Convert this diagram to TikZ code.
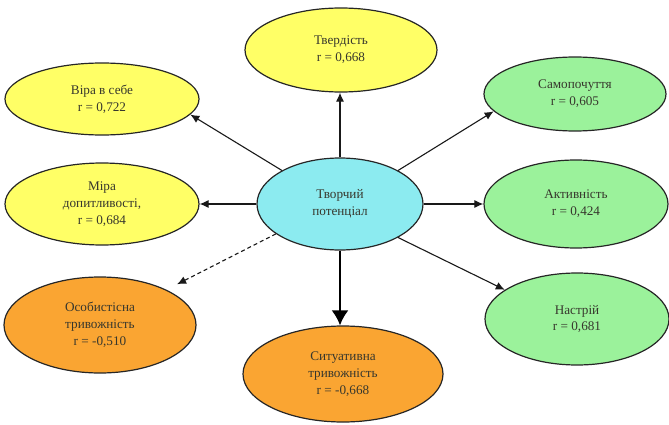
\documentclass[tikz,border=0pt]{standalone}
\usepackage{fontspec}
\setmainfont{Liberation Serif}
\usetikzlibrary{shapes.geometric,arrows.meta}
\definecolor{yelc}{RGB}{255,255,102}
\definecolor{cyanc}{RGB}{140,235,240}
\definecolor{grnc}{RGB}{155,242,155}
\definecolor{orc}{RGB}{250,165,50}
\definecolor{txtc}{RGB}{55,55,45}
\begin{document}
\begin{tikzpicture}[x=1pt,y=-1pt,
  oval/.style={ellipse, draw=black!85, line width=1.2pt, inner sep=0pt, align=center,
    font=\fontsize{13.2}{16.8}\selectfont, text=txtc},
  yel/.style={oval, fill=yelc},
  cya/.style={oval, fill=cyanc},
  grn/.style={oval, fill=grnc},
  ora/.style={oval, fill=orc},
  conn/.style={-{Latex[length=9pt,width=8pt]}, line width=1.1pt, draw=black!90},
  thickconn/.style={-{Latex[length=15pt,width=17pt]}, line width=2.2pt, draw=black},
  dashconn/.style={conn, dash pattern=on 4pt off 3pt}
]
\path[use as bounding box] (0,0) rectangle (669,425);

\node[cya, minimum width=166pt, minimum height=92pt] (c) at (340,204) {Творчий\\потенціал};

\node[yel, minimum width=194pt, minimum height=72pt] (vira) at (102,99) {Віра в себе\\r = 0,722};
\node[yel, minimum width=192pt, minimum height=84pt] (tverd) at (341,50) {Твердість\\r = 0,668};
\node[yel, minimum width=194pt, minimum height=82pt] (mira) at (102,204) {Міра\\допитливості,\\r = 0,684};
\node[ora, minimum width=192pt, minimum height=96pt] (osob) at (100,325) {Особистісна\\тривожність\\r = -0,510};
\node[ora, minimum width=200pt, minimum height=96pt] (sytu) at (343,374) {Ситуативна\\тривожність\\r = -0,668};
\node[grn, minimum width=182pt, minimum height=74pt] (samo) at (575,94) {Самопочуття\\r = 0,605};
\node[grn, minimum width=184pt, minimum height=88pt] (aktyv) at (576,204) {Активність\\r = 0,424};
\node[grn, minimum width=184pt, minimum height=92pt] (nastr) at (577,319) {Настрій\\r = 0,681};

\draw[conn] (c.150) -- (vira.-10);
\draw[conn] (c.90) -- (c.90 |- tverd.south);
\draw[conn] (c.30) -- (samo.192);
\draw[conn] (c.180) -- (mira.0);
\draw[conn] (c.0) -- (aktyv.180);
\draw[conn] (c.-30) -- (nastr.158);
\draw[dashconn, shorten >=12pt] (c.205) -- (osob.28);
\draw[thickconn] (c.-90) -- (c.-90 |- sytu.north);
\end{tikzpicture}
\end{document}
